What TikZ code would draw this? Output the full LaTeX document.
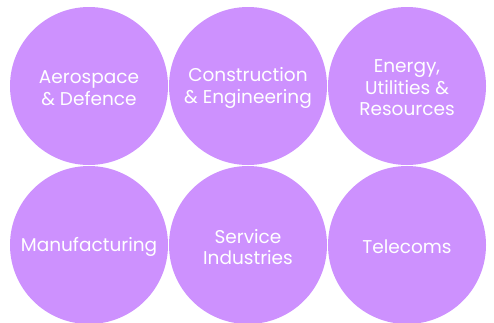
\documentclass[tikz,border=0pt]{standalone}
\usepackage{fontspec}
\setmainfont{Poppins}
\definecolor{lilac}{HTML}{CD91FE}
\begin{document}
\begin{tikzpicture}[x=1pt,y=1pt,
  sector/.style={circle,fill=lilac,minimum size=158pt,inner sep=0pt},
  sectortext/.style={text=white,align=center,yshift=-2pt,font=\fontsize{18.5}{21.5}\selectfont}]
\useasboundingbox (0,0) rectangle (494,-322);
\node[sector] (aero) at (89,-86) {};
\node[sector] (cons) at (248,-86) {};
\node[sector] (ener) at (407,-86) {};
\node[sector] (manu) at (89,-245) {};
\node[sector] (serv) at (248,-245) {};
\node[sector] (tele) at (407,-245) {};
\node[sectortext] (aerot) at (aero) {Aerospace\\\& Defence};
\node[sectortext] (const) at (cons) {Construction\\\& Engineering};
\node[sectortext] (enert) at (ener) {Energy,\\Utilities \&\\Resources};
\node[sectortext] (manut) at (manu) {Manufacturing};
\node[sectortext] (servt) at (serv) {Service\\Industries};
\node[sectortext] (telet) at (tele) {Telecoms};
\end{tikzpicture}
\end{document}
